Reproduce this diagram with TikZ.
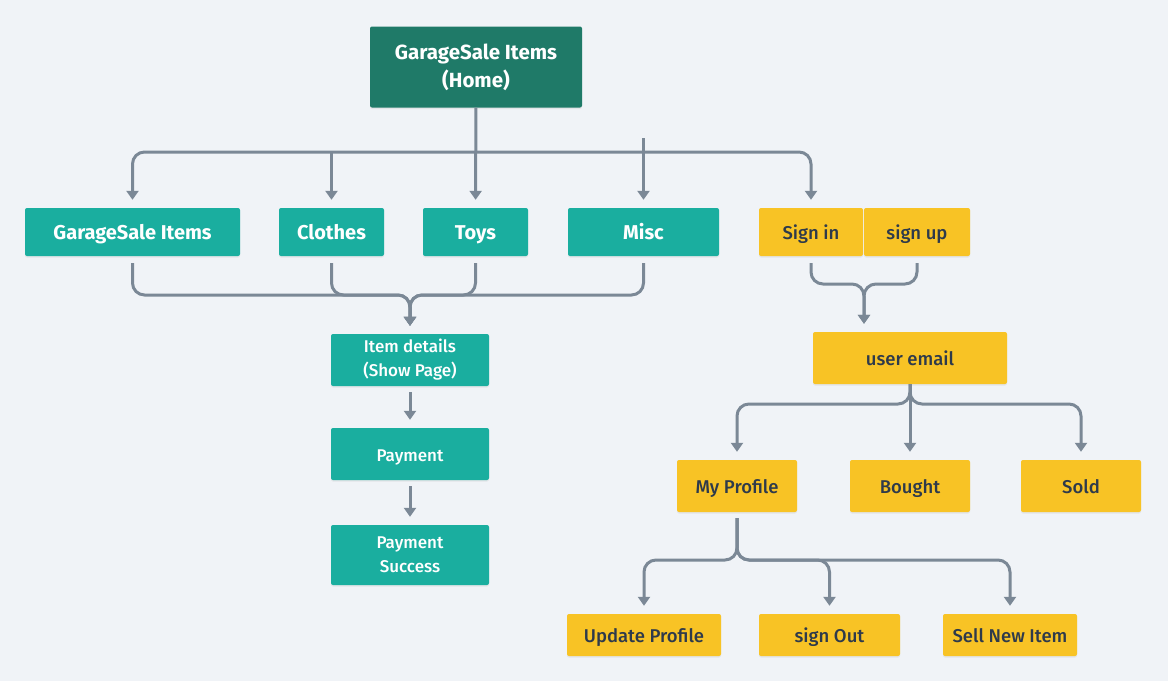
\documentclass[tikz,border=0pt]{standalone}
\usepackage{fontspec}
\setmainfont{Fira Sans}
\newfontfamily\medfont{Fira Sans Medium}
\usetikzlibrary{arrows.meta,shadows}

\definecolor{bgcol}{HTML}{F0F3F7}
\definecolor{homecol}{HTML}{1F7A68}
\definecolor{tealcol}{HTML}{1AAE9F}
\definecolor{yellowcol}{HTML}{F8C325}
\definecolor{linecol}{HTML}{7B8896}
\definecolor{darktext}{HTML}{2E3A4B}

\tikzset{
  box/.style={rectangle, rounded corners=2pt, inner sep=0pt, align=center,
    drop shadow={opacity=0.12, shadow xshift=0pt, shadow yshift=-1.5pt}},
  oneline/.style={text height=16pt, text depth=2pt},
  homebox/.style={box, fill=homecol, text=white,
    font=\bfseries\fontsize{20.5}{28}\selectfont},
  pagebox/.style={box, oneline, fill=tealcol, text=white,
    font=\bfseries\fontsize{20}{24}\selectfont},
  shopbox/.style={box, fill=tealcol, text=white,
    font=\medfont\fontsize{17}{24}\selectfont},
  userbox/.style={box, oneline, fill=yellowcol, text=darktext,
    font=\medfont\fontsize{18.5}{22}\selectfont},
  pipe/.style={draw=linecol, line width=3pt, rounded corners=12pt},
  link/.style={pipe, -{Triangle[width=12pt,length=9pt]}, shorten >=8pt},
}

\begin{document}
\begin{tikzpicture}[x=1pt, y=-1pt]

  % Background
  \fill[bgcol] (0,0) rectangle (1168,681);

  % Home
  \node[homebox, minimum width=212pt, minimum height=81pt] (home) at (476,67) {GarageSale Items\\(Home)};

  % Pages
  \node[pagebox, minimum width=215pt, minimum height=48pt] (gs) at (132.5,232) {GarageSale Items};
  \node[pagebox, minimum width=105pt, minimum height=48pt] (clothes) at (331.5,232) {Clothes};
  \node[pagebox, minimum width=105pt, minimum height=48pt] (toys) at (475.5,232) {Toys};
  \node[pagebox, minimum width=151pt, minimum height=48pt] (misc) at (643.5,232) {Misc};
  \node[userbox, minimum width=104pt, minimum height=48pt] (signin) at (811,232) {Sign in};
  \node[userbox, minimum width=106pt, minimum height=48pt] (signup) at (917,232) {sign up};

  % Shop
  \node[shopbox, minimum width=158pt, minimum height=52pt] (details) at (410,360) {Item details\\(Show Page)};
  \node[shopbox, oneline, minimum width=158pt, minimum height=52pt] (payment) at (410,454) {Payment};
  \node[shopbox, minimum width=158pt, minimum height=60pt] (success) at (410,555) {Payment\\Success};

  % User
  \node[userbox, minimum width=194pt, minimum height=52pt] (email) at (910,358) {user email};
  \node[userbox, minimum width=120pt, minimum height=52pt] (profile) at (737,486) {My Profile};
  \node[userbox, minimum width=120pt, minimum height=52pt] (bought) at (910,486) {Bought};
  \node[userbox, minimum width=120pt, minimum height=52pt] (sold) at (1081,486) {Sold};

  % Profile
  \node[userbox, minimum width=154pt, minimum height=42pt] (update) at (644,635) {Update Profile};
  \node[userbox, minimum width=141pt, minimum height=42pt] (signout) at (829.5,635) {sign Out};
  \node[userbox, minimum width=134pt, minimum height=42pt] (sellnew) at (1010,635) {Sell New Item};

  % Home to pages
  \coordinate (topbus) at (476,152);
  \coordinate (miscstub) at (643.5,138);
  \draw[link] (home) -- (toys);
  \draw[link] (topbus) -| (gs.north);
  \draw[link] (topbus) -| (signin.north);
  \draw[link] (topbus -| clothes.north) -- (clothes.north);
  \draw[link] (miscstub) -- (misc.north);

  % Pages to item details
  \coordinate (pagemerge) at (410,295);
  \foreach \p in {gs,clothes,toys,misc}
    \draw[link, shorten <=7pt] (\p.south) |- (pagemerge) -- (details.north);

  % Item details to payment
  \draw[link, shorten <=6pt] (details) -- (payment);
  \draw[link, shorten <=6pt] (payment) -- (success);

  % Sign in / up to user email
  \coordinate (signmerge) at (864,284);
  \foreach \s in {signin,signup}
    \draw[link, shorten <=7pt] (\s.south) |- (signmerge) -- (signmerge |- email.north);

  % User email to its pages
  \coordinate (emailbus) at (910,404);
  \draw[link] (email) -- (bought);
  \foreach \u in {profile,sold}
    \draw[link] (email.south) -- (emailbus) -| (\u.north);

  % My Profile to its pages
  \coordinate (profilebus) at (737,560);
  \foreach \q in {update,signout,sellnew}
    \draw[link, shorten <=6pt] (profile.south) -- (profilebus) -| (\q.north);

\end{tikzpicture}
\end{document}
